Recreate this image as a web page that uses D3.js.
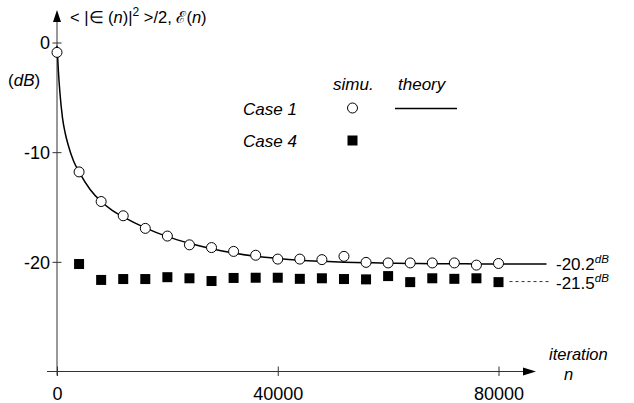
<!DOCTYPE html>
<html>
<head>
<meta charset="utf-8">
<script src="https://cdn.jsdelivr.net/npm/d3@7"></script>
<style>
    body { margin: 0; background: #fff; }
    svg { display: block; font-family: "Liberation Sans", Arial, sans-serif; }
</style>
</head>
<body>
<div id="chart"></div>
<script>
// Axis ticks
const iterationTicks = [0, 40000, 80000];
const dbTicks = [0, -10, -20];

// Case 1 simulation (circles)
const case1Iterations = [0, 4000, 8000, 12000, 16000, 20000, 24000, 28000, 32000, 36000, 40000,
    44000, 48000, 52000, 56000, 60000, 64000, 68000, 72000, 76000, 80000];
const case1Simu = [-0.9, -11.8, -14.5, -15.8, -16.95, -17.65, -18.45, -18.7, -19.05, -19.4, -19.75,
    -19.75, -19.8, -19.5, -20.05, -20.1, -20.1, -20.1, -20.1, -20.3, -20.15];

// Case 4 simulation (squares)
const case4Iterations = [4000, 8000, 12000, 16000, 20000, 24000, 28000, 32000, 36000, 40000,
    44000, 48000, 52000, 56000, 60000, 64000, 68000, 72000, 76000, 80000];
const case4Simu = [-20.2, -21.65, -21.57, -21.57, -21.4, -21.5, -21.75, -21.47, -21.45, -21.45,
    -21.55, -21.5, -21.57, -21.6, -21.3, -21.85, -21.5, -21.55, -21.5, -21.85];

// Theory curve for case 1
const theoryIterations = [0, 250, 500, 1000, 1500, 2000, 3000, 4000, 6000, 8000, 10000, 12000,
    16000, 20000, 24000, 28000, 32000, 36000, 40000, 44000, 48000, 52000, 56000, 60000, 64000,
    68000, 72000, 76000, 80000, 88700];
const theoryDb = [-0.3, -2.6, -4.4, -6.9, -8.3, -9.3, -10.8, -11.8, -13.4, -14.5, -15.3, -15.9,
    -16.9, -17.7, -18.3, -18.8, -19.2, -19.5, -19.7, -19.85, -19.95, -20.03, -20.08, -20.12, -20.15,
    -20.17, -20.18, -20.19, -20.2, -20.2];

// Steady state levels: label, level drawn, dashed guide from/to n
const steadyLabels = ["-20.2", "-21.5"];
const steadyLevels = [-20.2, -21.8];
const steadyFrom = [88700, 82000];
const steadyTo = [88700, 89600];

class DecayVis {

    constructor(parentElement) {
        this.parentElement = parentElement;
        this.initVis();
    }

    initVis() {
        let vis = this;

        vis.width = 634;
        vis.height = 403;

        vis.svg = d3.select("#" + vis.parentElement).append("svg")
            .attr("width", vis.width)
            .attr("height", vis.height);

        // Scales
        vis.x = d3.scaleLinear().domain([0, 80000]).range([57, 498.5]);
        vis.y = d3.scaleLinear().domain([-30, 0]).range([371.5, 42.5]);

        vis.updateVis();
    }

    updateVis() {
        let vis = this;
        const x = vis.x, y = vis.y;
        const axisColor = "#333";

        // Axis lines with arrow heads
        vis.svg.append("line")
            .attr("x1", x(0)).attr("x2", x(0))
            .attr("y1", y(-30) + 4).attr("y2", 20)
            .attr("stroke", axisColor).attr("stroke-width", 1);
        vis.svg.append("path")
            .attr("d", `M${x(0)},10 L${x(0) - 4},22 L${x(0) + 4},22 Z`)
            .attr("fill", "#000");

        vis.svg.append("line")
            .attr("x1", x(0) - 10).attr("x2", 525)
            .attr("y1", y(-30)).attr("y2", y(-30))
            .attr("stroke", axisColor).attr("stroke-width", 1);
        vis.svg.append("path")
            .attr("d", `M536,${y(-30)} L523,${y(-30) - 4} L523,${y(-30) + 4} Z`)
            .attr("fill", "#000");

        // Y axis ticks and labels (plain hyphen as in the original)
        const yAxis = d3.axisLeft(y).tickValues(dbTicks).tickFormat(d => String(d)).tickSizeOuter(0);
        const yg = vis.svg.append("g").attr("transform", `translate(${x(0)},0)`).call(yAxis);
        yg.select(".domain").remove();
        yg.selectAll(".tick line").attr("x1", -4.5).attr("x2", 4.5).attr("stroke", axisColor);
        yg.selectAll(".tick text")
            .attr("x", -7).attr("dy", "0.36em")
            .attr("font-size", 18).attr("font-family", "Liberation Sans, Arial, sans-serif")
            .attr("fill", "#000");

        // X axis ticks and labels
        const xAxis = d3.axisBottom(x).tickValues(iterationTicks).tickFormat(d => String(d)).tickSizeOuter(0);
        const xg = vis.svg.append("g").attr("transform", `translate(0,${y(-30)})`).call(xAxis);
        xg.select(".domain").remove();
        xg.selectAll(".tick line").attr("y1", -5).attr("y2", 4.5).attr("stroke", axisColor);
        xg.selectAll(".tick text")
            .attr("y", 28.5).attr("dy", 0)
            .attr("font-size", 18).attr("font-family", "Liberation Sans, Arial, sans-serif")
            .attr("fill", "#000");

        // Y axis title
        const title = vis.svg.append("text")
            .attr("x", 70).attr("y", 23)
            .attr("font-size", 16.5);
        title.append("tspan").text("< |\u2208 (");
        title.append("tspan").attr("font-style", "italic").text("n");
        title.append("tspan").text(")|");
        title.append("tspan").attr("font-size", 12).attr("dy", -7).text("2");
        title.append("tspan").attr("dy", 7).text(" >/2, \u2130(");
        title.append("tspan").attr("font-style", "italic").text("n");
        title.append("tspan").text(")");

        const unit = vis.svg.append("text")
            .attr("x", 8).attr("y", 86)
            .attr("font-size", 17);
        unit.append("tspan").text("(");
        unit.append("tspan").attr("font-style", "italic").text("dB");
        unit.append("tspan").text(")");

        // X axis title
        vis.svg.append("text")
            .attr("x", 549).attr("y", 360)
            .attr("font-size", 16.5).attr("font-style", "italic")
            .text("iteration");
        vis.svg.append("text")
            .attr("x", 564).attr("y", 379.5)
            .attr("font-size", 16.5).attr("font-style", "italic")
            .text("n");

        // Theory line
        const line = d3.line()
            .x((d, i) => x(theoryIterations[i]))
            .y(d => y(d))
            .curve(d3.curveMonotoneX);

        vis.svg.append("path")
            .datum(theoryDb)
            .attr("d", line)
            .attr("fill", "none")
            .attr("stroke", "#000")
            .attr("stroke-width", 1.5);

        // Steady state markers and labels
        const labelBaselines = [269.5, 288.5];
        steadyLabels.forEach((label, i) => {
            const yy = y(steadyLevels[i]);
            if (steadyTo[i] > steadyFrom[i]) {
                vis.svg.append("line")
                    .attr("x1", x(steadyFrom[i])).attr("x2", x(steadyTo[i]))
                    .attr("y1", yy).attr("y2", yy)
                    .attr("stroke", "#333").attr("stroke-width", 1)
                    .attr("stroke-dasharray", "3,3");
            }
            const t = vis.svg.append("text")
                .attr("x", 556).attr("y", labelBaselines[i])
                .attr("font-size", 17);
            t.append("tspan").text(label);
            t.append("tspan").attr("font-size", 11.5).attr("font-style", "italic")
                .attr("dy", -7).text("dB");
        });

        // Case 4 squares
        const sq = 10;
        vis.svg.selectAll(".case4")
            .data(case4Simu)
            .enter()
            .append("rect")
            .attr("class", "case4")
            .attr("x", (d, i) => x(case4Iterations[i]) - sq / 2)
            .attr("y", d => y(d) - sq / 2)
            .attr("width", sq)
            .attr("height", sq)
            .attr("fill", "#000");

        // Case 1 circles
        vis.svg.selectAll(".case1")
            .data(case1Simu)
            .enter()
            .append("circle")
            .attr("class", "case1")
            .attr("cx", (d, i) => x(case1Iterations[i]))
            .attr("cy", d => y(d))
            .attr("r", 5)
            .attr("fill", "#fff")
            .attr("stroke", "#000")
            .attr("stroke-width", 1);

        // Legend
        const legendText = (tx, ty, s) => vis.svg.append("text")
            .attr("x", tx).attr("y", ty)
            .attr("font-size", 17).attr("font-style", "italic")
            .text(s);

        legendText(333, 90, "simu.");
        legendText(398, 90, "theory");
        legendText(243, 115, "Case 1");
        legendText(243, 147, "Case 4");

        vis.svg.append("circle")
            .attr("cx", 352.5).attr("cy", 108).attr("r", 5)
            .attr("fill", "#fff").attr("stroke", "#000");
        vis.svg.append("line")
            .attr("x1", 395).attr("x2", 457).attr("y1", 108.5).attr("y2", 108.5)
            .attr("stroke", "#000").attr("stroke-width", 1.5);
        vis.svg.append("rect")
            .attr("x", 352.5 - sq / 2).attr("y", 140.5 - sq / 2)
            .attr("width", sq).attr("height", sq)
            .attr("fill", "#000");
    }
}

new DecayVis("chart");
</script>
</body>
</html>
